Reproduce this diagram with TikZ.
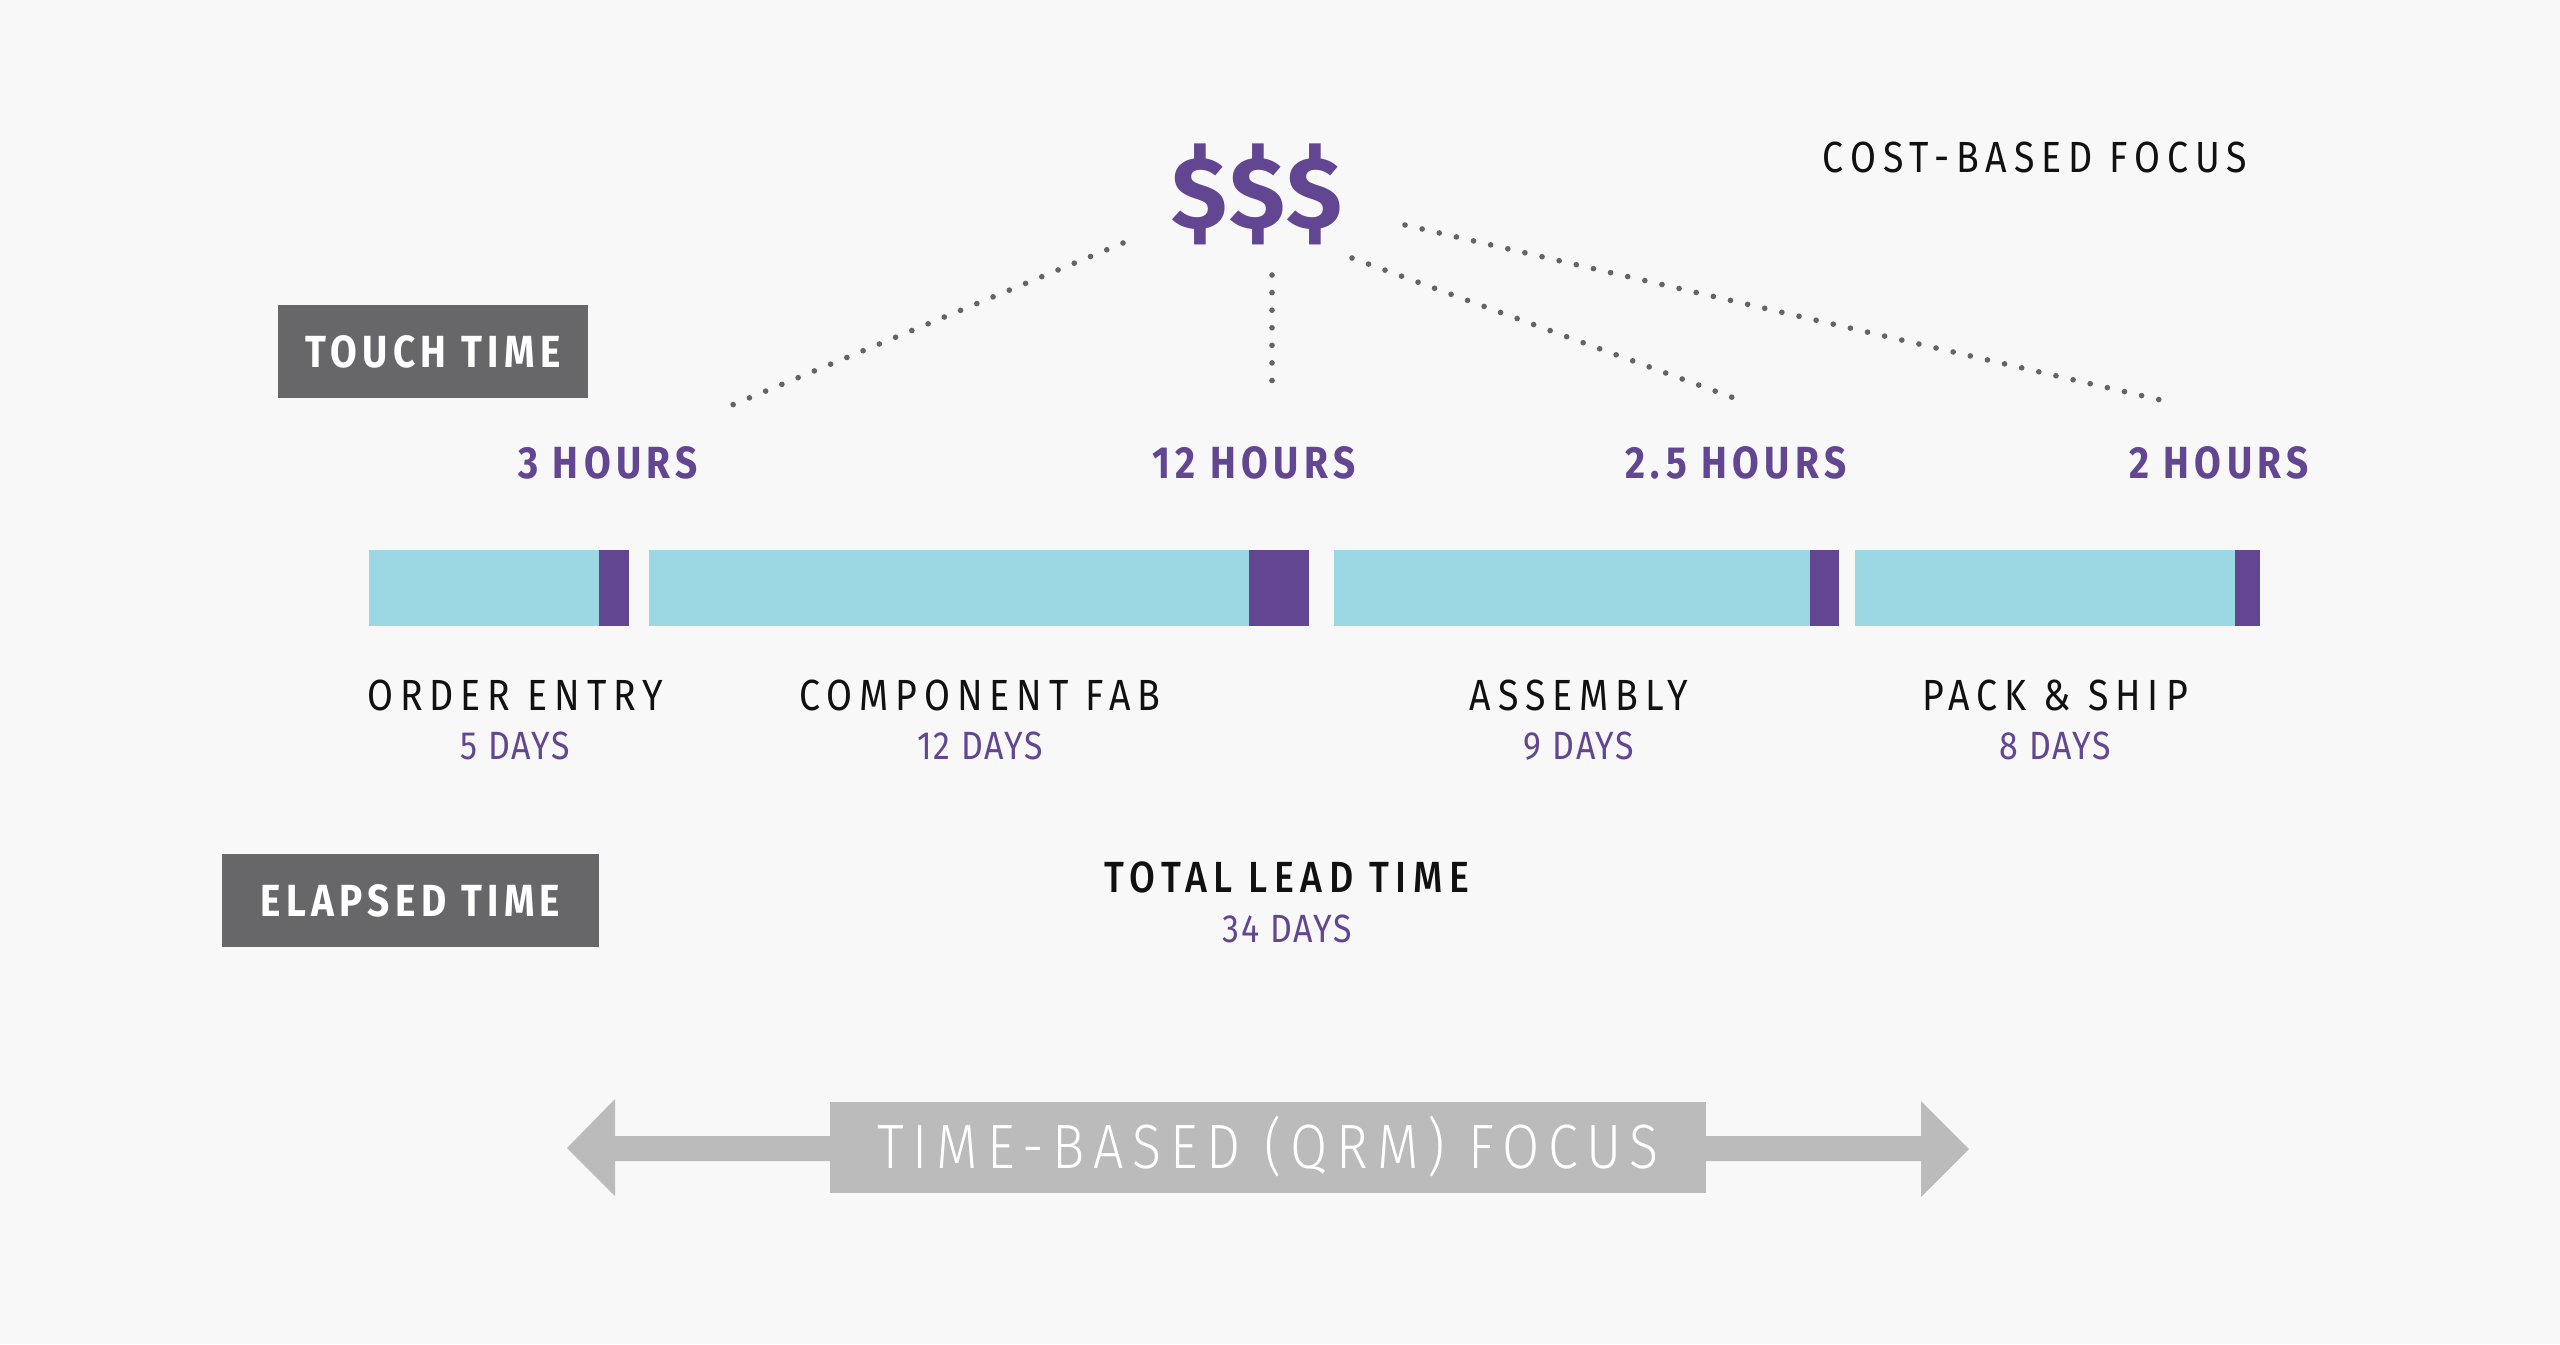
\documentclass[tikz,border=0pt]{standalone}
\usepackage{fontspec}
\setmainfont{Fira Sans}[FakeStretch=0.86, LetterSpace=5]
\newfontfamily\dinfont{Fira Sans}[FakeStretch=0.86, LetterSpace=16]
\newfontfamily\dinbold{Fira Sans}[FakeStretch=0.86, LetterSpace=12]
\newfontfamily\dinlight{Fira Sans Light}[FakeStretch=0.86, LetterSpace=14]
\newfontfamily\dinmed{Fira Sans Medium}[FakeStretch=0.86, LetterSpace=15]
\newfontfamily\dollarfont{Fira Sans}[LetterSpace=3]
\usepackage{xcolor}
\usepackage{tikz}
\usetikzlibrary{positioning}

\definecolor{bgcol}{RGB}{248,248,248}
\definecolor{tagbg}{RGB}{103,103,105}
\definecolor{qrmpurple}{RGB}{99,70,145}
\definecolor{barcyan}{RGB}{155,216,227}
\definecolor{dotgray}{RGB}{100,100,100}
\definecolor{arrowgray}{RGB}{187,187,187}
\definecolor{inkblack}{RGB}{17,17,17}

\begin{document}
\begin{tikzpicture}[x={(0.01cm,0)}, y={(0,-0.01cm)},
    tagbox/.style={fill=tagbg, text=white, inner sep=0pt, font=\dinbold\bfseries\fontsize{12.8}{14}\selectfont},
    hourlbl/.style={text=qrmpurple, inner sep=0pt, font=\dinbold\bfseries\fontsize{12.8}{14}\selectfont},
    stagelbl/.style={text=inkblack, inner sep=0pt, font=\dinfont\fontsize{12.4}{14}\selectfont},
    daylbl/.style={text=qrmpurple, inner sep=0pt, font=\fontsize{11.2}{13}\selectfont},
    dotline/.style={draw=dotgray, line width=1.6pt, line cap=round, dash pattern=on 0pt off 5pt}]
    % Nền
    \fill[bgcol] (0,0) rectangle (2560,1344);
    \useasboundingbox (0,0) rectangle (2560,1344);

    % Tiêu đề phía trên
    \node[text=qrmpurple, inner sep=0pt, anchor=base, font=\dollarfont\bfseries\fontsize{29}{32}\selectfont] (cost) at (1257,228) {\$\$\$};
    \node[stagelbl] (costfocus) at (2035,157) {COST-BASED FOCUS};

    % Nhãn xám
    \node[tagbox, minimum width=3.1cm, minimum height=0.93cm] (touch) at (433,351.5) {TOUCH TIME};
    \node[tagbox, minimum width=3.77cm, minimum height=0.93cm] (elapsed) at (410.5,900.5) {ELAPSED TIME};

    % Số giờ
    \node[hourlbl] (h1) at (608,463) {3 HOURS};
    \node[hourlbl] (h2) at (1254,463) {12 HOURS};
    \node[hourlbl] (h3) at (1736,463) {2.5 HOURS};
    \node[hourlbl] (h4) at (2219,463) {2 HOURS};

    % Các thanh thời gian
    \foreach \s/\p/\e in {369/599/629, 649/1249/1309, 1334/1810/1839, 1855/2235/2260} {
        \fill[barcyan] (\s,550) rectangle (\p,626);
        \fill[qrmpurple] (\p,550) rectangle (\e,626);
    }

    % Các công đoạn
    \node[stagelbl] (s1) at (515,695) {ORDER ENTRY};
    \node[stagelbl] (s2) at (980,695) {COMPONENT FAB};
    \node[stagelbl] (s3) at (1579,695) {ASSEMBLY};
    \node[stagelbl] (s4) at (2055,695) {PACK \& SHIP};
    \node[daylbl, below=0.2cm of s1] (d1) {5 DAYS};
    \node[daylbl, below=0.2cm of s2] (d2) {12 DAYS};
    \node[daylbl, below=0.2cm of s3] (d3) {9 DAYS};
    \node[daylbl, below=0.2cm of s4] (d4) {8 DAYS};

    % Tổng
    \node[text=inkblack, inner sep=0pt, font=\dinmed\fontsize{12.4}{14}\selectfont] (total) at (1287,877) {TOTAL LEAD TIME};
    \node[daylbl, below=0.21cm of total] (totaldays) {34 DAYS};

    % Đường chấm
    \coordinate (c1) at (1123,243); \coordinate (e1) at (720,410);
    \coordinate (c2) at (1272,275); \coordinate (e2) at (1272,398);
    \coordinate (c3) at (1352,258); \coordinate (e3) at (1745,402);
    \coordinate (c4) at (1405,225); \coordinate (e4) at (2165,401);
    \foreach \i in {1,...,4} {
        \draw[dotline] (c\i) -- (e\i);
    }

    % Mũi tên hai chiều
    \fill[arrowgray] (567,1148) -- (615,1099) -- (615,1136) -- (1921,1136) -- (1921,1101)
        -- (1969,1149) -- (1921,1197) -- (1921,1161) -- (615,1161) -- (615,1196) -- cycle;
    \node[fill=arrowgray, text=white, inner sep=0pt, minimum width=8.76cm, minimum height=0.91cm,
        text height=12.2pt, text depth=0pt, font=\dinlight\fontsize{17.8}{20}\selectfont] (focus) at (1268,1147.5) {TIME-BASED (QRM) FOCUS};
\end{tikzpicture}
\end{document}
